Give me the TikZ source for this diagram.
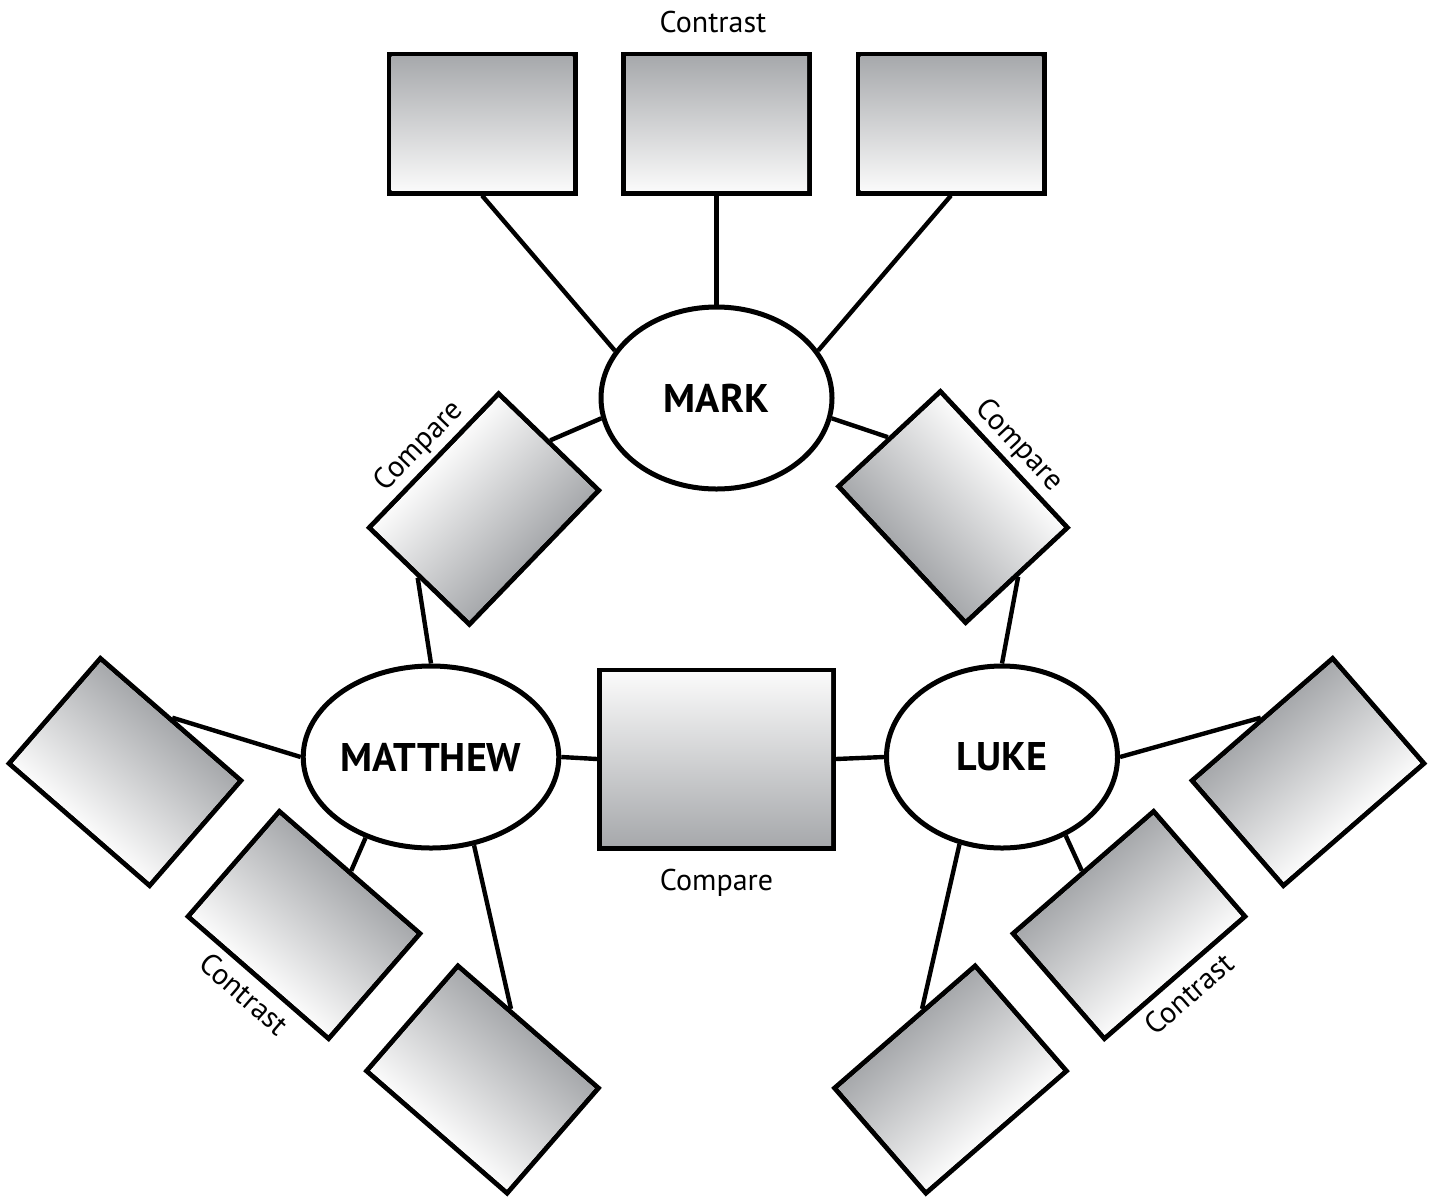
\documentclass[tikz,border=0pt]{standalone}
\usepackage{fontspec}
\setmainfont{PT Sans}
\usetikzlibrary{shapes.geometric,calc}

\definecolor{boxgray}{RGB}{167,169,172}
\definecolor{boxwhite}{RGB}{250,250,250}

% shaded card face, drawn as node text so that it turns with the node
\newcommand{\cardfill}[4]{\tikz\shade[top color=#1, bottom color=#2] (0pt,0pt) rectangle (#3,#4);}
\newcommand{\contrastfill}{\cardfill{boxgray}{boxwhite}{90.5pt}{67pt}}
\newcommand{\comparefill}{\cardfill{boxwhite}{boxgray}{90.5pt}{67pt}}

\tikzset{
    gospel/.style = {ellipse, draw=black, line width=2.5pt, fill=white, inner sep=0pt,
        minimum width=115.5pt, minimum height=91pt,
        font={\fontsize{20}{24}\selectfont\bfseries}},
    cardbox/.style = {rectangle, draw=black, line width=2.5pt, inner sep=0pt,
        minimum width=93pt, minimum height=69.5pt},
    link/.style = {draw=black, line width=2.2pt},
    tag/.style = {inner sep=2pt, font={\fontsize{15}{18}\selectfont}},
}

\begin{document}
\begin{tikzpicture}[x=0.5pt, y=-0.5pt]
    \useasboundingbox (0,0) rectangle (1433,1199);

    \node[gospel] (mark) at (716.5, 398) {MARK};
    \node[gospel] (matthew) at (431, 757) {MATTHEW};
    \node[gospel] (luke) at (1002, 757) {LUKE};

    % mark
    \node[cardbox] (mk1) at (482, 123.5) {\contrastfill};
    \node[cardbox] (mk2) at (716.5, 123.5) {\contrastfill};
    \node[cardbox] (mk3) at (951, 123.5) {\contrastfill};
    \node[tag] (mktag) at (713, 22) {Contrast};

    % compare
    \node[cardbox, rotate=46] (mtmk) at (484, 509) {\comparefill};
    \node[cardbox, rotate=-47] (mklk) at (953, 507) {\comparefill};
    \node[cardbox, minimum width=117pt, minimum height=89pt] (mtlk) at (716.5, 759)
        {\cardfill{boxwhite}{boxgray}{114.5pt}{86.5pt}};

    \node[tag, rotate=46, anchor=south] (mtmktag) at (mtmk.north) {Compare};
    \node[tag, rotate=-47, anchor=south] (mklktag) at (mklk.north) {Compare};
    \node[tag, anchor=north, yshift=-7pt] (mtlktag) at (mtlk.south) {Compare};

    % matthew
    \node[cardbox, rotate=-41] (mt1) at (125, 772) {\contrastfill};
    \node[cardbox, rotate=-41] (mt2) at (304, 925) {\contrastfill};
    \node[cardbox, rotate=-41] (mt3) at (482.5, 1079.5) {\contrastfill};
    \node[tag, rotate=-41, anchor=north, yshift=-2pt] (mttag) at (mt2.south) {Contrast};

    % luke
    \node[cardbox, rotate=41] (lk1) at (1308, 772) {\contrastfill};
    \node[cardbox, rotate=41] (lk2) at (1129, 925) {\contrastfill};
    \node[cardbox, rotate=41] (lk3) at (950.5, 1079.5) {\contrastfill};
    \node[tag, rotate=41, anchor=north, yshift=-2pt] (lktag) at (lk2.south) {Contrast};

    \draw[link] (mk1.south) -- (mark.155);
    \draw[link] (mk2.south) -- (mark.north);
    \draw[link] (mk3.south) -- (mark.25);

    \draw[link] (mark.190) -- (mtmk.east);
    \draw[link] (mtmk.west) -- (matthew.north);
    \draw[link] (mark.350) -- (mklk.west);
    \draw[link] (mklk.east) -- (luke.north);
    \draw[link] (matthew.east) -- (mtlk.west);
    \draw[link] (mtlk.east) -- (luke.west);

    \draw[link] (mt1.north) -- (matthew.west);
    \draw[link] (mt2.north) -- (matthew.231);
    \draw[link] ($(mt3.north west)!0.37!(mt3.north east)$) -- (matthew.296);

    \draw[link] (lk1.north) -- (luke.east);
    \draw[link] (lk2.north) -- (luke.309);
    \draw[link] ($(lk3.north west)!0.63!(lk3.north east)$) -- (luke.244);
\end{tikzpicture}
\end{document}
